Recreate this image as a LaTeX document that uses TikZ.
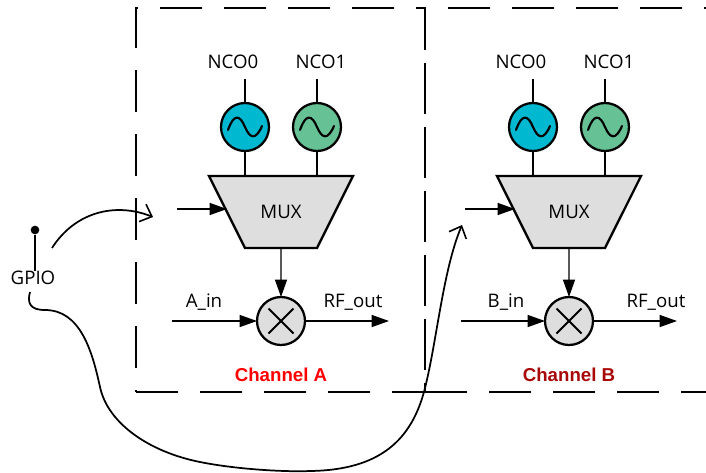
\documentclass[tikz,border=0pt]{standalone}
\usepackage{fontspec}
\setmainfont{Open Sans}
\newfontfamily\chfont{Liberation Sans}
\usetikzlibrary{arrows.meta,shapes.geometric}
\definecolor{ncoblue}{HTML}{00B9D1}
\definecolor{ncogreen}{HTML}{66C194}
\definecolor{blockgray}{HTML}{DEDEDE}
\definecolor{chbred}{HTML}{A80808}
\tikzset{
	lbl/.style={inner sep=0pt,font=\fontsize{14}{16}\selectfont},
	chlbl/.style={inner sep=0pt,font=\chfont\bfseries\fontsize{14}{16}\selectfont},
	osc/.style={circle,draw,line width=1.7pt,minimum size=36pt,inner sep=0pt,outer sep=0pt,
		path picture={\draw[line width=1.6pt,line cap=round,shift={(path picture bounding box.center)}]
			(-17,3) .. controls (-11,-14) and (-5,-12) .. (0,0) .. controls (5,12) and (11,13) .. (17,-1);}},
	mixer/.style={circle,draw,fill=blockgray,line width=1.7pt,minimum size=36pt,inner sep=0pt,outer sep=0pt,
		path picture={\draw[line width=1.5pt,shift={(path picture bounding box.center)}]
			(-12.5,-12.5) -- (12.5,12.5) (-12.5,12.5) -- (12.5,-12.5);}},
	mux/.style={trapezium,trapezium left angle=63.43,trapezium right angle=63.43,shape border rotate=180,
		draw,fill=blockgray,line width=1.7pt,text width=54pt,align=center,text height=9pt,text depth=0pt,
		inner xsep=0pt,inner ysep=22.5pt,outer sep=0pt,font=\fontsize{14}{16}\selectfont},
	wire/.style={line width=1.5pt},
	sig/.style={line width=0.9pt,-{Triangle[length=13pt,width=9pt]}},
	swoop/.style={line width=1.3pt,-{Straight Barb[length=7.5pt,width=14pt,line width=1.2pt]}},
	chbox/.style={line width=1.8pt,dash pattern=on 31.5pt off 16.5pt}
}
\begin{document}
\begin{tikzpicture}[x=0.75pt,y=-0.75pt]
	\useasboundingbox (0,0) rectangle (706,472);

	\draw[chbox] (136,392) -- (425,392) -- (425,8) -- (136,8) -- cycle;
	\draw[chbox] (425,8) -- (425,392) -- (706,392);
	\draw[chbox] (448,8) -- (706,8);

	\node[osc,fill=ncoblue] (oscA0) at (245,127) {};
	\node[osc,fill=ncogreen] (oscA1) at (317,127) {};
	\node[osc,fill=ncoblue] (oscB0) at (533,127) {};
	\node[osc,fill=ncogreen] (oscB1) at (605,127) {};
	\node[lbl] (lblA0) at (233,62) {NCO0};
	\node[lbl] (lblA1) at (321,62) {NCO1};
	\node[lbl] (lblB0) at (521,62) {NCO0};
	\node[lbl] (lblB1) at (609,62) {NCO1};
	\node[mux] (muxA) at (281,212) {MUX};
	\node[mux] (muxB) at (569,212) {MUX};
	\node[mixer] (mixA) at (281,321) {};
	\node[mixer] (mixB) at (569,321) {};
	\node[lbl] (inA) at (204,302) {A\_in};
	\node[lbl] (outA) at (353,302) {RF\_out};
	\node[lbl] (inB) at (506,302) {B\_in};
	\node[lbl] (outB) at (656,302) {RF\_out};
	\node[chlbl,red] (chA) at (281,375) {Channel A};
	\node[chlbl,chbred] (chB) at (569,375) {Channel B};
	\node[lbl] (gpio) at (33,278) {GPIO};
	\node[circle,fill=black,inner sep=0pt,minimum size=6.5pt] (pin) at (35,230) {};

	\coordinate (topA0) at (245,79);
	\coordinate (topA1) at (317,79);
	\coordinate (topB0) at (533,79);
	\coordinate (topB1) at (605,79);
	\coordinate (selA) at (177,209);
	\coordinate (selB) at (465,209);
	\coordinate (srcA) at (172,321);
	\coordinate (dstA) at (389,321);
	\coordinate (srcB) at (461,321);
	\coordinate (dstB) at (677,321);
	\coordinate (tapA) at (52,248);
	\coordinate (tapB) at (30,292);
	\coordinate (endA) at (153,217);
	\coordinate (endB) at (462,225);

	\draw[wire] (topA0) -- (oscA0);
	\draw[wire] (topA1) -- (oscA1);
	\draw[wire] (topB0) -- (oscB0);
	\draw[wire] (topB1) -- (oscB1);
	\draw[wire] (oscA0) -- (oscA0 |- muxA.north);
	\draw[wire] (oscA1) -- (oscA1 |- muxA.north);
	\draw[wire] (oscB0) -- (oscB0 |- muxB.north);
	\draw[wire] (oscB1) -- (oscB1 |- muxB.north);
	\draw[wire] (pin) -- (gpio.north -| pin);

	\draw[sig] (selA) -- (selA -| muxA.west);
	\draw[sig] (selB) -- (selB -| muxB.west);
	\draw[sig] (muxA) -- (mixA);
	\draw[sig] (muxB) -- (mixB);
	\draw[sig] (srcA) -- (mixA);
	\draw[sig] (mixA) -- (dstA);
	\draw[sig] (srcB) -- (mixB);
	\draw[sig] (mixB) -- (dstB);

	\draw[swoop] (tapA) .. controls (75,212) and (115,202) .. (endA);
	\draw[swoop] (tapB) .. controls (27,303) and (30,310) .. (45,310)
		.. controls (80,310) and (92,350) .. (100,387)
		.. controls (108,424) and (150,452) .. (200,462)
		.. controls (240,470) and (290,472) .. (310,471)
		.. controls (380,470) and (412,440) .. (425,388)
		.. controls (437,340) and (443,270) .. (endB);
\end{tikzpicture}
\end{document}
